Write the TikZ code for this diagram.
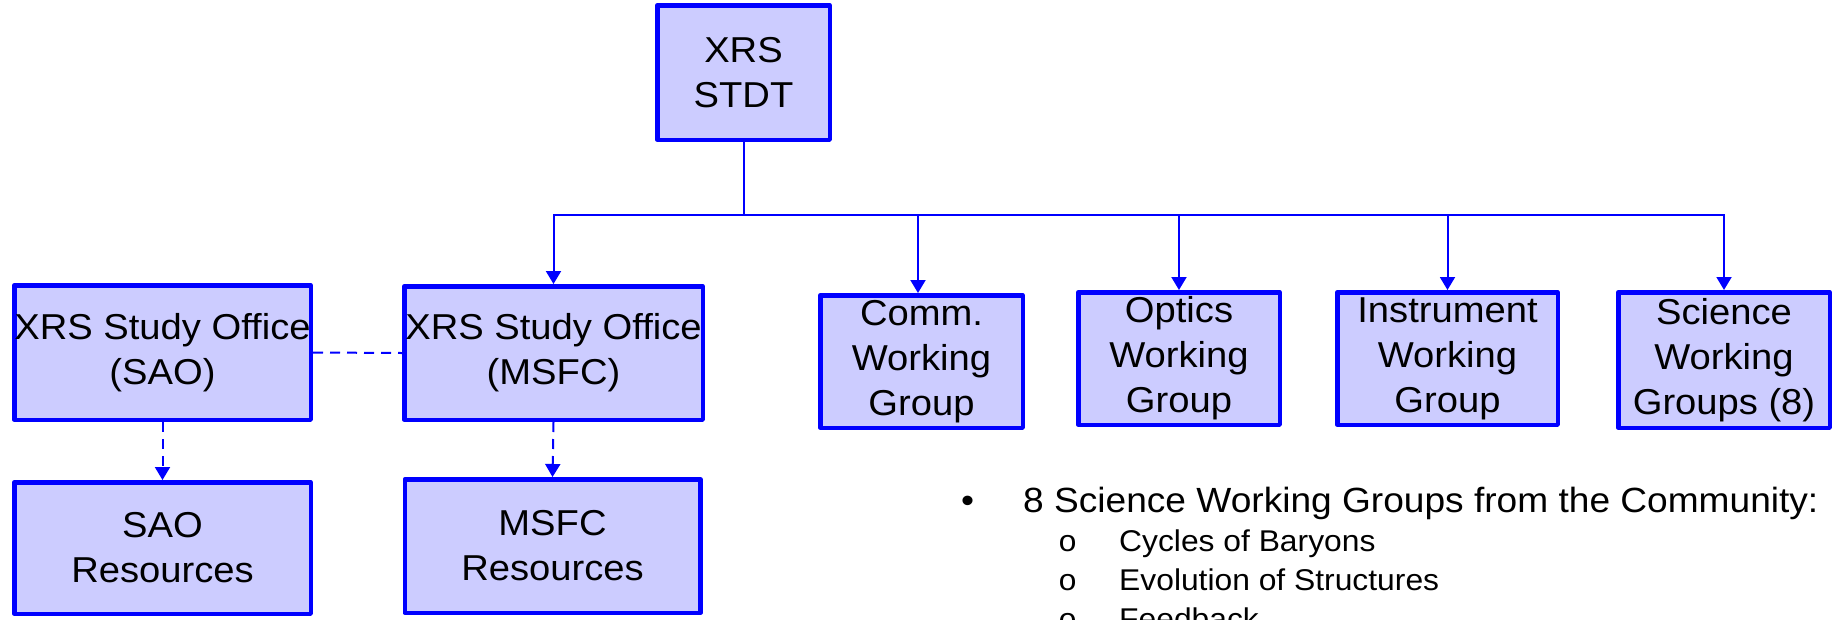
\documentclass[tikz,border=0pt]{standalone}
\usepackage{fontspec}
\setmainfont{Liberation Sans}[FakeStretch=1.06]
\newfontfamily\monofam{Liberation Mono}[FakeStretch=1.06]
\usetikzlibrary{arrows.meta}
\definecolor{boxblue}{RGB}{0,0,255}
\definecolor{boxfill}{RGB}{204,204,255}
\tikzset{
  box/.style={draw=boxblue, fill=boxfill, line width=4.5pt, line join=round, inner sep=0pt,
    align=center, font=\fontsize{36}{45}\selectfont},
  conn/.style={draw=boxblue, line width=2pt, -{Triangle[width=15pt,length=13pt]}},
  dsh/.style={draw=boxblue, line width=2pt, dash pattern=on 10pt off 7pt},
  dsharr/.style={dsh, -{Triangle[width=15pt,length=13pt]}},
  bigtxt/.style={anchor=base west, inner sep=0pt, font=\fontsize{35}{42}\selectfont},
  smalltxt/.style={anchor=base west, inner sep=0pt, font=\fontsize{30}{39}\selectfont},
  subbul/.style={anchor=base west, inner sep=0pt, font=\monofam\fontsize{30}{39}\selectfont}
}
\begin{document}
\begin{tikzpicture}[x=1pt,y=-1pt]
\useasboundingbox (0,0) rectangle (1839,619);
\clip (0,0) rectangle (1839,619);
\fill[white] (0,0) rectangle (1839,619);

% boxes (outer size minus line width)
\node[box, minimum width=172.5pt, minimum height=134.5pt] (stdt) at (743.5,72.5) {XRS\\STDT};
\node[box, minimum width=296.5pt, minimum height=134.5pt] (sao) at (162.5,352.5) {XRS Study Office\\(SAO)};
\node[box, minimum width=298.5pt, minimum height=133.5pt] (msfc) at (553.5,353) {XRS Study Office\\(MSFC)};
\node[box, minimum width=296.5pt, minimum height=131.5pt] (saores) at (162.5,548) {SAO\\Resources};
\node[box, minimum width=295.5pt, minimum height=133.5pt] (msfcres) at (552.5,546) {MSFC\\Resources};
\node[box, minimum width=202.5pt, minimum height=132.5pt] (comm) at (921.5,361.5) {Comm.\\Working\\Group};
\node[box, minimum width=201.5pt, minimum height=132.5pt] (optics) at (1179,358.5) {Optics\\Working\\Group};
\node[box, minimum width=220.5pt, minimum height=132.5pt] (instr) at (1447.5,358.5) {Instrument\\Working\\Group};
\node[box, minimum width=211.5pt, minimum height=135.5pt] (sci) at (1724,360) {Science\\Working\\Groups (8)};

% tree connectors
\coordinate (j) at (743.5,215);
\draw[conn] (stdt.south) -- (j) -| (msfc.north);
\draw[conn] (stdt.south) -- (j) -| ([xshift=-3.5pt]comm.north);
\draw[conn] (stdt.south) -- (j) -| (optics.north);
\draw[conn] (stdt.south) -- (j) -| (instr.north);
\draw[conn] (stdt.south) -- (j) -| (sci.north);

% dashed links
\draw[dsh] (sao.east) -- (msfc.west);
\draw[dsharr] (sao.south) -- (saores.north);
\draw[dsharr] (msfc.south) -- (msfcres.north);

% bullet list
\node[bigtxt] (b0) at (961,512) {•};
\node[bigtxt] (b0t) at (1023,512) {8 Science Working Groups from the Community:};
\node[subbul] (b1) at (1058,551) {o};
\node[smalltxt] (b1t) at (1119,551) {Cycles of Baryons};
\node[subbul] (b2) at (1058,590) {o};
\node[smalltxt] (b2t) at (1119,590) {Evolution of Structures};
\node[subbul] (b3) at (1058,629) {o};
\node[smalltxt] (b3t) at (1119,629) {Feedback};
\end{tikzpicture}
\end{document}
